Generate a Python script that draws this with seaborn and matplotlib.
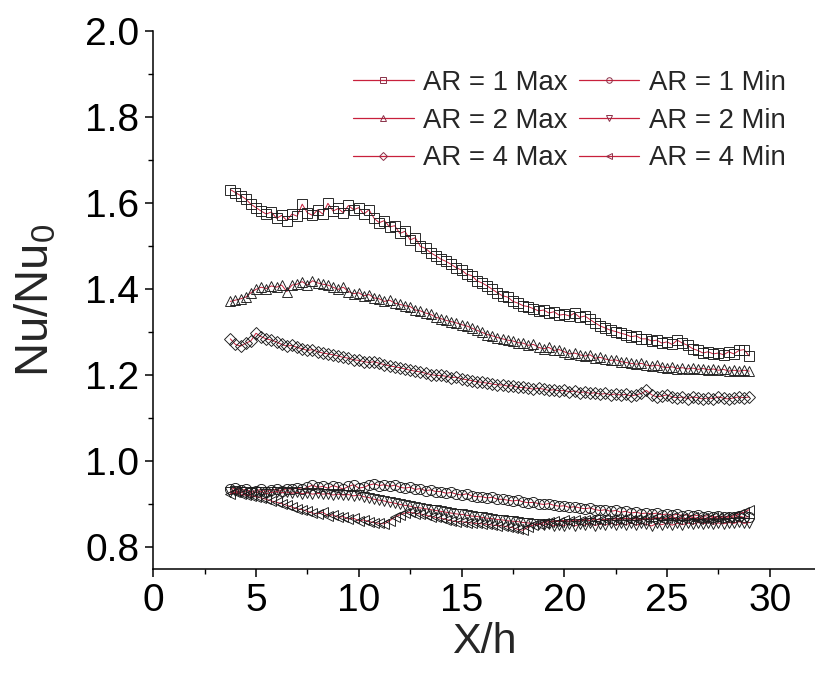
import numpy as np
import pandas as pd
import matplotlib
matplotlib.use("Agg")
import matplotlib.pyplot as plt
from matplotlib.lines import Line2D
from matplotlib.ticker import MultipleLocator
import seaborn as sns

# streamwise positions X/h (same grid for all series)
x_h = [3.75,
       4.0, 4.25, 4.5, 4.75, 5.0, 5.25, 5.5, 5.75, 6.0, 6.25, 6.5, 6.75,
       7.0, 7.25, 7.5, 7.75, 8.0, 8.25, 8.5, 8.75, 9.0, 9.25, 9.5, 9.75,
       10.0, 10.25, 10.5, 10.75, 11.0, 11.25, 11.5, 11.75, 12.0, 12.25, 12.5, 12.75,
       13.0, 13.25, 13.5, 13.75, 14.0, 14.25, 14.5, 14.75, 15.0, 15.25, 15.5, 15.75,
       16.0, 16.25, 16.5, 16.75, 17.0, 17.25, 17.5, 17.75, 18.0, 18.25, 18.5, 18.75,
       19.0, 19.25, 19.5, 19.75, 20.0, 20.25, 20.5, 20.75, 21.0, 21.25, 21.5, 21.75,
       22.0, 22.25, 22.5, 22.75, 23.0, 23.25, 23.5, 23.75, 24.0, 24.25, 24.5, 24.75,
       25.0, 25.25, 25.5, 25.75, 26.0, 26.25, 26.5, 26.75, 27.0, 27.25, 27.5, 27.75,
       28.0, 28.25, 28.5, 28.75,
       29.0]

ar1_max = [1.632,
           1.625, 1.618, 1.610, 1.598, 1.590, 1.582, 1.575, 1.580, 1.565, 1.572, 1.560, 1.575,
           1.570, 1.598, 1.578, 1.572, 1.585, 1.575, 1.600, 1.582, 1.588, 1.578, 1.595, 1.585,
           1.590, 1.575, 1.585, 1.565, 1.555, 1.560, 1.545, 1.548, 1.530, 1.535, 1.515, 1.520,
           1.500, 1.495, 1.485, 1.478, 1.470, 1.465, 1.458, 1.450, 1.445, 1.435, 1.432, 1.420,
           1.415, 1.408, 1.400, 1.392, 1.385, 1.382, 1.372, 1.368, 1.362, 1.360, 1.355, 1.350,
           1.352, 1.345, 1.348, 1.340, 1.342, 1.338, 1.345, 1.335, 1.338, 1.330, 1.322, 1.315,
           1.310, 1.305, 1.302, 1.298, 1.295, 1.290, 1.292, 1.285, 1.285, 1.280, 1.282, 1.275,
           1.278, 1.272, 1.282, 1.275, 1.270, 1.262, 1.258, 1.252, 1.255, 1.250, 1.252, 1.248,
           1.255, 1.250, 1.258, 1.260,
           1.245]

ar1_min = [0.935,
           0.938, 0.933, 0.935, 0.930, 0.932, 0.935, 0.930, 0.934, 0.935, 0.932, 0.937, 0.935,
           0.938, 0.935, 0.940, 0.945, 0.940, 0.942, 0.938, 0.944, 0.940, 0.936, 0.942, 0.946,
           0.938, 0.940, 0.945, 0.948, 0.944, 0.946, 0.942, 0.945, 0.940, 0.938, 0.940, 0.935,
           0.937, 0.932, 0.934, 0.930, 0.930, 0.926, 0.928, 0.924, 0.922, 0.925, 0.920, 0.918,
           0.918, 0.915, 0.917, 0.912, 0.912, 0.910, 0.908, 0.910, 0.906, 0.904, 0.905, 0.902,
           0.900, 0.902, 0.898, 0.896, 0.897, 0.893, 0.895, 0.892, 0.890, 0.892, 0.888, 0.886,
           0.888, 0.884, 0.886, 0.882, 0.884, 0.880, 0.882, 0.879, 0.880, 0.878, 0.880, 0.876,
           0.878, 0.875, 0.877, 0.874, 0.876, 0.873, 0.875, 0.872, 0.874, 0.871, 0.873, 0.870,
           0.872, 0.870, 0.873, 0.870,
           0.872]

ar2_max = [1.372,
           1.375, 1.378, 1.382, 1.392, 1.400, 1.405, 1.402, 1.408, 1.405, 1.410, 1.395, 1.410,
           1.412, 1.418, 1.410, 1.420, 1.415, 1.412, 1.410, 1.405, 1.400, 1.405, 1.395, 1.390,
           1.392, 1.385, 1.388, 1.380, 1.378, 1.372, 1.375, 1.368, 1.365, 1.362, 1.360, 1.352,
           1.350, 1.345, 1.342, 1.335, 1.332, 1.328, 1.325, 1.322, 1.318, 1.315, 1.310, 1.305,
           1.300, 1.295, 1.292, 1.288, 1.285, 1.282, 1.280, 1.276, 1.275, 1.270, 1.272, 1.265,
           1.262, 1.265, 1.258, 1.260, 1.255, 1.250, 1.252, 1.248, 1.245, 1.248, 1.240, 1.242,
           1.238, 1.235, 1.236, 1.232, 1.230, 1.228, 1.226, 1.228, 1.224, 1.222, 1.224, 1.220,
           1.218, 1.220, 1.216, 1.218, 1.215, 1.217, 1.214, 1.216, 1.213, 1.215, 1.212, 1.214,
           1.210, 1.212, 1.210, 1.212,
           1.210]

ar2_min = [0.930,
           0.932, 0.928, 0.930, 0.926, 0.928, 0.930, 0.925, 0.928, 0.930, 0.927, 0.929, 0.926,
           0.928, 0.925, 0.927, 0.924, 0.926, 0.924, 0.925, 0.922, 0.924, 0.922, 0.923, 0.920,
           0.922, 0.918, 0.916, 0.912, 0.910, 0.908, 0.905, 0.903, 0.900, 0.898, 0.896, 0.893,
           0.892, 0.890, 0.888, 0.886, 0.884, 0.882, 0.880, 0.878, 0.877, 0.875, 0.873, 0.872,
           0.870, 0.868, 0.867, 0.865, 0.864, 0.862, 0.861, 0.860, 0.858, 0.857, 0.855, 0.854,
           0.852, 0.855, 0.850, 0.853, 0.851, 0.855, 0.850, 0.854, 0.852, 0.856, 0.851, 0.855,
           0.852, 0.857, 0.852, 0.856, 0.853, 0.857, 0.852, 0.856, 0.854, 0.850, 0.856, 0.853,
           0.857, 0.852, 0.856, 0.853, 0.857, 0.854, 0.858, 0.855, 0.858, 0.854, 0.857, 0.855,
           0.858, 0.856, 0.860, 0.856,
           0.858]

ar4_max = [1.285,
           1.272, 1.268, 1.275, 1.280, 1.298, 1.290, 1.285, 1.282, 1.278, 1.272, 1.268, 1.270,
           1.265, 1.262, 1.258, 1.260, 1.255, 1.252, 1.250, 1.248, 1.245, 1.242, 1.240, 1.236,
           1.235, 1.232, 1.230, 1.232, 1.228, 1.225, 1.222, 1.220, 1.218, 1.215, 1.212, 1.210,
           1.208, 1.205, 1.202, 1.200, 1.200, 1.198, 1.195, 1.196, 1.192, 1.190, 1.188, 1.185,
           1.184, 1.182, 1.180, 1.178, 1.178, 1.175, 1.176, 1.172, 1.172, 1.170, 1.168, 1.170,
           1.168, 1.165, 1.167, 1.164, 1.165, 1.162, 1.164, 1.160, 1.162, 1.158, 1.160, 1.156,
           1.158, 1.155, 1.157, 1.154, 1.156, 1.152, 1.155, 1.158, 1.165, 1.155, 1.150, 1.152,
           1.155, 1.150, 1.148, 1.150, 1.146, 1.150, 1.148, 1.145, 1.148, 1.146, 1.150, 1.147,
           1.145, 1.148, 1.150, 1.148,
           1.150]

ar4_min = [0.925,
           0.928, 0.924, 0.922, 0.920, 0.918, 0.915, 0.912, 0.908, 0.905, 0.902, 0.898, 0.894,
           0.890, 0.888, 0.884, 0.880, 0.878, 0.882, 0.874, 0.876, 0.870, 0.872, 0.866, 0.868,
           0.862, 0.864, 0.860, 0.858, 0.856, 0.855, 0.862, 0.870, 0.876, 0.880, 0.882, 0.879,
           0.878, 0.875, 0.872, 0.870, 0.868, 0.865, 0.862, 0.860, 0.860, 0.858, 0.857, 0.856,
           0.855, 0.854, 0.852, 0.851, 0.850, 0.848, 0.846, 0.842, 0.840, 0.848, 0.852, 0.855,
           0.858, 0.860, 0.862, 0.860, 0.863, 0.861, 0.864, 0.862, 0.865, 0.863, 0.866, 0.864,
           0.866, 0.864, 0.867, 0.865, 0.868, 0.865, 0.867, 0.864, 0.868, 0.866, 0.870, 0.866,
           0.868, 0.872, 0.866, 0.869, 0.866, 0.870, 0.867, 0.869, 0.866, 0.870, 0.868, 0.872,
           0.870, 0.874, 0.878, 0.882,
           0.888]

series = [
    ("AR = 1 Max", ar1_max, "s"),
    ("AR = 1 Min", ar1_min, "o"),
    ("AR = 2 Max", ar2_max, "^"),
    ("AR = 2 Min", ar2_min, "v"),
    ("AR = 4 Max", ar4_max, "D"),
    ("AR = 4 Min", ar4_min, "<"),
]

line_color = "#c8203c"

sns.set_style("ticks")
plt.rcParams["font.family"] = ["Liberation Sans", "DejaVu Sans"]
plt.rcParams["mathtext.default"] = "regular"

fig = plt.figure(figsize=(8.15, 6.79), dpi=100)
ax = fig.add_axes([0.188, 0.162, 0.812, 0.792])

for name, vals, mk in series:
    df = pd.DataFrame({"x": x_h, "y": vals})
    ms = 6.3 if mk == "D" else 7.3
    sns.lineplot(data=df, x="x", y="y", ax=ax, color=line_color, linewidth=0.7,
                 marker=mk, markersize=ms, markerfacecolor="none",
                 markeredgecolor="#1a1a1a", markeredgewidth=0.65, legend=False)

ax.set_xlim(0, 32.2)
ax.set_ylim(0.75, 2.0)
ax.xaxis.set_major_locator(MultipleLocator(5))
ax.xaxis.set_minor_locator(MultipleLocator(2.5))
ax.yaxis.set_minor_locator(MultipleLocator(0.1))
ax.set_yticks([0.8, 1.0, 1.2, 1.4, 1.6, 1.8, 2.0])
ax.set_yticklabels(["0.8", "1.0", "1.2", "1.4", "1.6", "1.8", "2.0"])

sns.despine(ax=ax)
for side in ["left", "bottom"]:
    ax.spines[side].set_linewidth(1.1)
    ax.spines[side].set_color("black")
ax.tick_params(which="major", direction="out", length=6, width=1.1,
               labelsize=28, colors="black", pad=4)
ax.tick_params(which="minor", direction="out", length=3.5, width=1.0, colors="black")

ax.set_xlabel("X/h", fontsize=31, labelpad=2)
ax.set_ylabel("Nu/Nu$_0$", fontsize=34, labelpad=2)
ax.yaxis.set_label_coords(-0.143, 0.5)

# legend laid out row-wise: Max in column 1, Min in column 2
handles = {}
for name, vals, mk in series:
    handles[name] = Line2D([], [], color=line_color, linewidth=0.9, marker=mk,
                           markersize=4, markerfacecolor="none",
                           markeredgecolor="#8a3048", markeredgewidth=0.7)
order = ["AR = 1 Max", "AR = 2 Max", "AR = 4 Max", "AR = 1 Min", "AR = 2 Min", "AR = 4 Min"]
fig.legend([handles[n] for n in order], order, ncol=2, frameon=False, fontsize=19.8,
           loc="upper right", bbox_to_anchor=(0.981, 0.917), borderpad=0,
           handlelength=2.2, handletextpad=0.35, columnspacing=0.4, labelspacing=0.42)

fig.savefig("out.png", dpi=100)
